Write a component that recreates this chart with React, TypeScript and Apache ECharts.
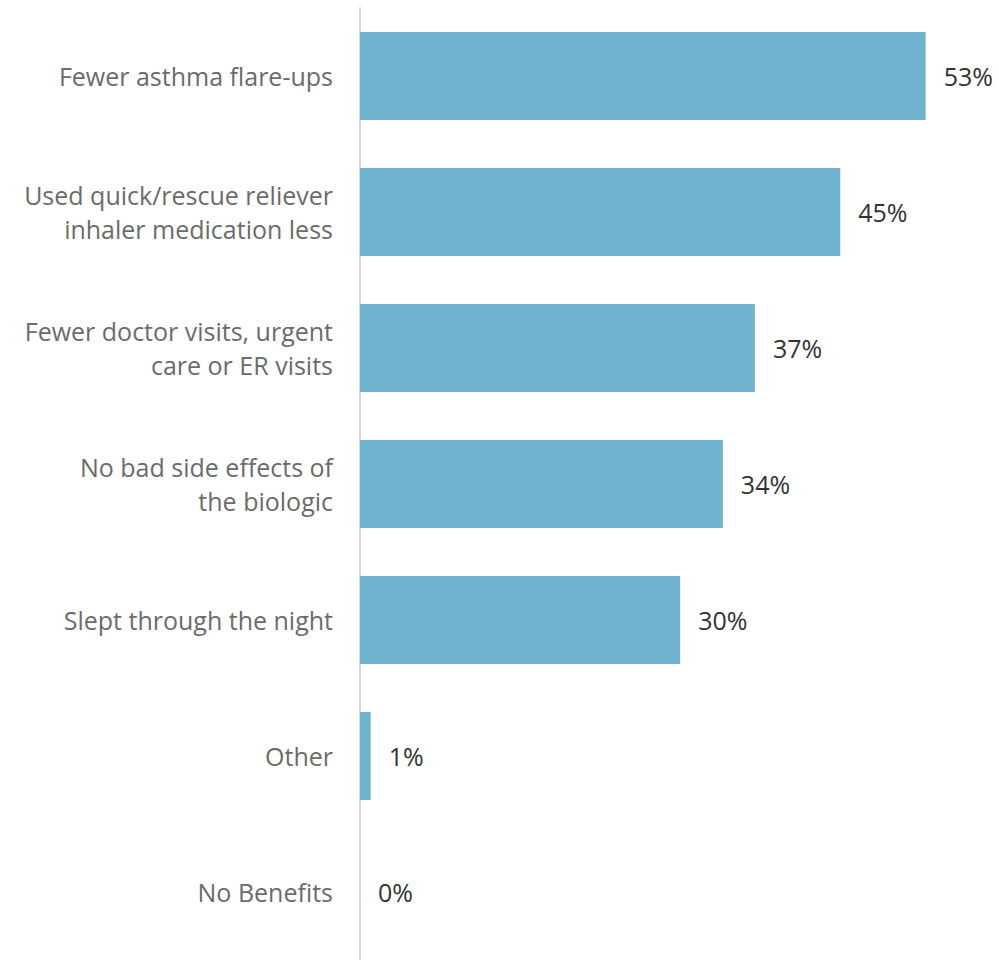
import React, { useEffect, useRef } from "react";
import * as echarts from "echarts";

const categories = [
  "Fewer asthma flare-ups",
  "Used quick/rescue reliever\ninhaler medication less",
  "Fewer doctor visits, urgent\ncare or ER visits",
  "No bad side effects of\nthe biologic",
  "Slept through the night",
  "Other",
  "No Benefits",
];
const values = [53, 45, 37, 34, 30, 1, 0];

export default function App() {
  const ref = useRef<HTMLDivElement>(null);
  useEffect(() => {
    if (!ref.current) return;
    const chart = echarts.init(ref.current, null, { renderer: "svg" });
    chart.setOption({
      animation: false,
      grid: { left: 360, top: 8, width: 587, height: 952 },
      xAxis: {
        type: "value",
        min: 0,
        max: 55,
        show: false,
      },
      yAxis: {
        type: "category",
        inverse: true,
        data: categories,
        axisLine: { show: true, lineStyle: { color: "#D9D9D9", width: 2 } },
        axisTick: { show: false },
        axisLabel: {
          margin: 27,
          color: "#6b6b6b",
          fontSize: 25,
          lineHeight: 34,
          fontFamily: "Open Sans",
          align: "right",
        },
      },
      series: [
        {
          type: "bar",
          data: values,
          barWidth: 88,
          itemStyle: { color: "#6FB3CE" },
          label: {
            show: true,
            position: "right",
            distance: 18,
            formatter: "{c}%",
            color: "#333333",
            fontSize: 25,
            fontFamily: "Open Sans",
          },
        },
      ],
    });
    return () => chart.dispose();
  }, []);
  return (
    <div
      ref={ref}
      style={{ position: "absolute", left: 0, top: 0, width: 999, height: 960 }}
    />
  );
}
